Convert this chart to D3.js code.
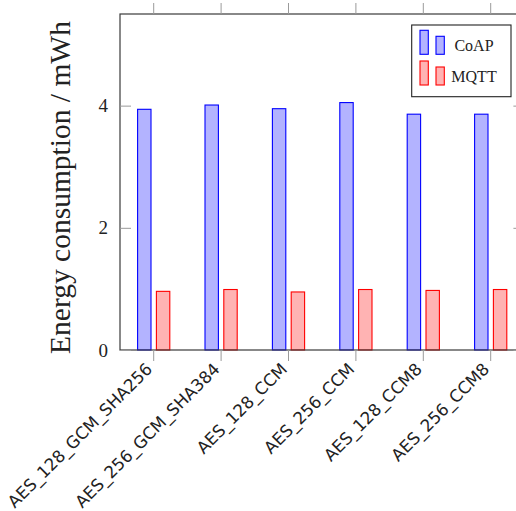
<!DOCTYPE html>
<html>
<head>
<meta charset="utf-8">
<script src="https://cdn.jsdelivr.net/npm/d3@7"></script>
<style>
body { margin: 0; background: #fff; }
svg { display: block; }
</style>
</head>
<body>
<svg id="chart" width="516" height="511"></svg>
<script>
const categories = ["AES_128_GCM_SHA256", "AES_256_GCM_SHA384", "AES_128_CCM", "AES_256_CCM", "AES_128_CCM8", "AES_256_CCM8"];
const seriesNames = ["CoAP", "MQTT"];
const coapValues = [3.94, 4.01, 3.95, 4.05, 3.86, 3.86];
const mqttValues = [0.96, 0.99, 0.95, 0.99, 0.975, 0.99];
const yTicks = [0, 2, 4];
const yLabel = "Energy consumption / mWh";

(function () {
const fills = ["#b3b3ff", "#ffb3b3"];
const strokes = ["#0000ff", "#ff0000"];

const svg = d3.select("#chart");
const pLeft = 120, pRight = 524.4, pTop = 14, pBottom = 350;

const x = d3.scaleBand().domain(categories).range([pLeft, pRight]).padding(0);
const y = d3.scaleLinear().domain([0, 5.5]).range([pBottom, pTop]);

const barW = 13.4, offset = 9.4;
const series = [coapValues, mqttValues];

// bars
series.forEach((vals, s) => {
  svg.append("g").selectAll("rect").data(categories).join("rect")
    .attr("x", d => x(d) + x.bandwidth() / 2 + (s === 0 ? -offset : offset) - barW / 2)
    .attr("y", (d, i) => y(vals[i]))
    .attr("width", barW)
    .attr("height", (d, i) => y(0) - y(vals[i]))
    .attr("fill", fills[s])
    .attr("stroke", strokes[s])
    .attr("stroke-width", 1.1);
});

// frame
svg.append("rect").attr("x", pLeft).attr("y", pTop)
  .attr("width", pRight - pLeft).attr("height", pBottom - pTop)
  .attr("fill", "none").attr("stroke", "#3a3a3a").attr("stroke-width", 1.2);

// x ticks (outside, top and bottom)
const tickLen = 11;
const xAxisB = d3.axisBottom(x).tickSize(tickLen).tickSizeOuter(0).tickFormat("");
const gxb = svg.append("g").attr("transform", `translate(0,${pBottom})`).call(xAxisB);
gxb.select(".domain").remove();
gxb.selectAll("line").attr("stroke", "#9a9a9a").attr("stroke-width", 1);
const xAxisT = d3.axisTop(x).tickSize(tickLen).tickSizeOuter(0).tickFormat("");
const gxt = svg.append("g").attr("transform", `translate(0,${pTop})`).call(xAxisT);
gxt.select(".domain").remove();
gxt.selectAll("line").attr("stroke", "#9a9a9a").attr("stroke-width", 1);

// y ticks (inside, left and right)
const yAxisL = d3.axisRight(y).tickValues(yTicks).tickSize(tickLen).tickSizeOuter(0).tickFormat("");
const gyl = svg.append("g").attr("transform", `translate(${pLeft},0)`).call(yAxisL);
gyl.select(".domain").remove();
gyl.selectAll("line").attr("stroke", "#9a9a9a");
const yAxisR = d3.axisLeft(y).tickValues(yTicks).tickSize(tickLen).tickSizeOuter(0).tickFormat("");
const gyr = svg.append("g").attr("transform", `translate(${pRight},0)`).call(yAxisR);
gyr.select(".domain").remove();
gyr.selectAll("line").attr("stroke", "#9a9a9a");

// y tick labels
svg.append("g").selectAll("text").data(yTicks).join("text")
  .attr("x", 108).attr("y", d => y(d)).attr("dy", "0.35em")
  .attr("text-anchor", "end")
  .attr("font-family", "Liberation Serif, serif").attr("font-size", 19)
  .attr("fill", "#222")
  .text(d => d);

// x tick labels
svg.append("g").selectAll("text").data(categories).join("text")
  .attr("transform", d => `translate(${x(d) + x.bandwidth() / 2 - 4.5},${pBottom + 16}) rotate(-45)`)
  .attr("text-anchor", "end").attr("dy", "0.35em")
  .attr("font-family", "DejaVu Sans, sans-serif").attr("font-size", 16.8)
  .attr("fill", "#222")
  .text(d => d);

// y label
svg.append("text")
  .attr("transform", `translate(69.5,187.5) rotate(-90)`)
  .attr("text-anchor", "middle")
  .attr("font-family", "Liberation Serif, serif").attr("font-size", 29.5)
  .attr("fill", "#222")
  .text(yLabel);

// legend
const lg = svg.append("g");
lg.append("rect").attr("x", 411.7).attr("y", 25).attr("width", 99.3).attr("height", 71.7)
  .attr("fill", "#fff").attr("stroke", "#222").attr("stroke-width", 1.1);
seriesNames.forEach((name, s) => {
  const base = 54.3 + s * 30.7;
  lg.append("rect").attr("x", 420).attr("y", base - 24).attr("width", 8.3).attr("height", 24)
    .attr("fill", fills[s]).attr("stroke", strokes[s]).attr("stroke-width", 1.1);
  lg.append("rect").attr("x", 436).attr("y", base - 18).attr("width", 8.3).attr("height", 18)
    .attr("fill", fills[s]).attr("stroke", strokes[s]).attr("stroke-width", 1.1);
  lg.append("text").attr("x", 474).attr("y", base - 3.5)
    .attr("text-anchor", "middle")
    .attr("font-family", "Liberation Serif, serif").attr("font-size", 16)
    .attr("fill", "#222")
    .text(name);
});
})();
</script>
</body>
</html>
